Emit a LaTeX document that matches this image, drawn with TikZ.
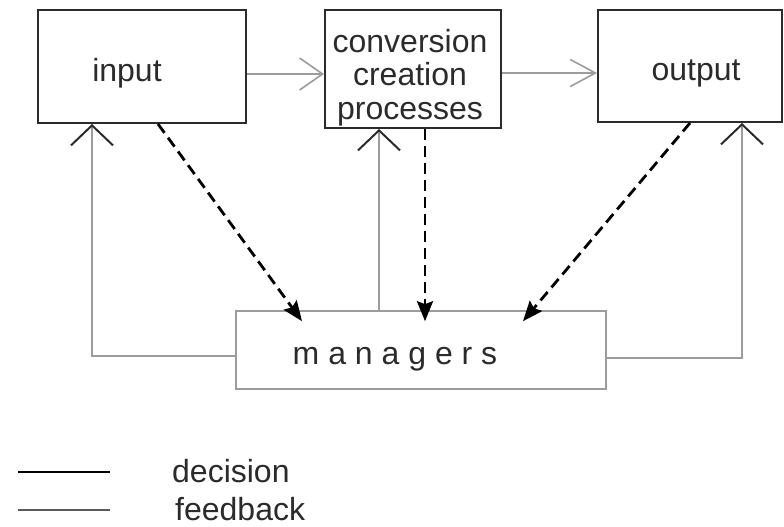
\documentclass[tikz,border=0pt]{standalone}
\usepackage{fontspec}
\setmainfont{Liberation Sans}
\usetikzlibrary{arrows.meta}

\definecolor{boxline}{HTML}{2B2B2B}
\definecolor{fbgray}{HTML}{9C9C9C}
\definecolor{leggray}{HTML}{5A5A5A}

\begin{document}
\begin{tikzpicture}[x=1pt, y=-1pt,
	every node/.style={inner sep=0pt, text=boxline, font=\fontsize{32}{33.5}\selectfont},
	topbox/.style={draw=boxline, line width=2pt},
	mgrbox/.style={draw=fbgray, line width=1.6pt},
	fb/.style={draw=fbgray, line width=1.6pt},
	dec/.style={draw=black, line width=2.8pt, dash pattern=on 11pt off 6pt, -{Stealth[length=20pt, width=16pt, inset=3pt]}},
	fbhead/.style={-{Straight Barb[color=boxline, line width=2pt, length=20pt, width=42pt]}}]
	\useasboundingbox (0,0) rectangle (784,527);

	% the three boxes on top
	\node[topbox, minimum width=208pt, minimum height=113pt, label={[xshift=-15pt, yshift=-7pt]center:input}] (input) at (142,66.5) {};
	\node[topbox, minimum width=176pt, minimum height=118pt, label={[align=center, xshift=-3pt, yshift=-8.5pt]center:conversion\\creation\\processes}] (conv) at (413,69) {};
	\node[topbox, minimum width=184pt, minimum height=112pt, label={[xshift=6pt, yshift=-7pt]center:output}] (output) at (690,66) {};
	\node[mgrbox, minimum width=370pt, minimum height=78pt, label={[xshift=-26pt, yshift=-9pt]center:m a n a g e r s}] (mgr) at (421,350) {};

	% flow
	\draw[fb, -{Straight Barb[length=23pt, width=32pt]}] ([yshift=-7.5pt]input.east) -- ([yshift=-5pt]conv.west);
	\draw[fb, -{Straight Barb[length=25pt, width=27pt]}] ([yshift=-4pt]conv.east) -- ([yshift=-7pt]output.west);

	% feedback
	\draw[fb, fbhead] ([yshift=-6pt]mgr.west) -| ([xshift=-50pt]input.south);
	\draw[fb, fbhead] ([xshift=-42pt]mgr.north) -- ([xshift=-34pt]conv.south);
	\draw[fb, fbhead] ([yshift=-8pt]mgr.east) -| ([xshift=52pt]output.south);

	% decisions
	\draw[dec] ([xshift=16pt]input.south) -- ([xshift=-119pt, yshift=-11pt]mgr.north);
	\draw[dec] ([xshift=12pt]conv.south) -- ([xshift=4pt, yshift=-11pt]mgr.north);
	\draw[dec] (output.south) -- ([xshift=102pt, yshift=-11pt]mgr.north);

	% legend
	\node[anchor=west] (decision) at (172,471) {decision};
	\node[anchor=west] (feedback) at (175,509) {feedback};
	\draw[black, line width=2.5pt] ([xshift=-154pt, yshift=-1pt]decision.west) -- ([xshift=-62pt, yshift=-1pt]decision.west);
	\draw[leggray, line width=2.2pt] ([xshift=-157pt, yshift=-1pt]feedback.west) -- ([xshift=-65pt, yshift=-1pt]feedback.west);
\end{tikzpicture}
\end{document}
